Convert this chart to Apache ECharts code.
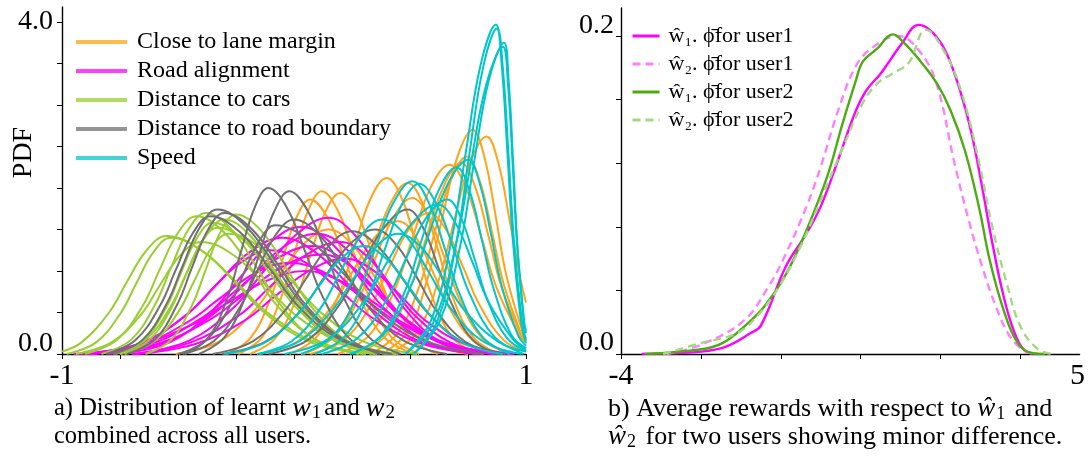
<!DOCTYPE html>
<html><head><meta charset="utf-8">
<script src="https://cdn.jsdelivr.net/npm/echarts@6/dist/echarts.min.js"></script>
<style>html,body{margin:0;padding:0;background:#fff}#c{width:1088px;height:474px}</style>
</head><body><div id="c"></div>
<script>
// ---------- Panel a: distributions of learnt weights (x in [-1,1], y = PDF) ----------
const groupNames = ['Close to lane margin', 'Road alignment', 'Distance to cars', 'Distance to road boundary', 'Speed'];

const laneMarginCurves = [
 [[-0.24,0],[-0.138,0.20],[-0.054,0.69],[0,1.20],[0.06,1.72],[0.12,1.96],[0.19,1.72],[0.26,1.20],[0.323,0.69],[0.421,0.20],[0.54,0]],
 [[-0.19,0],[-0.08,0.19],[0.012,0.68],[0.07,1.18],[0.135,1.71],[0.2,1.94],[0.27,1.71],[0.34,1.18],[0.403,0.68],[0.501,0.19],[0.62,0]],
 [[-0.29,0],[-0.188,0.19],[-0.104,0.65],[-0.05,1.13],[0.01,1.64],[0.07,1.86],[0.145,1.64],[0.22,1.13],[0.288,0.65],[0.393,0.19],[0.52,0]],
 [[-0.02,0],[0.099,0.21],[0.197,0.74],[0.26,1.29],[0.33,1.87],[0.4,2.12],[0.465,1.87],[0.53,1.29],[0.589,0.74],[0.68,0.21],[0.79,0]],
 [[0.04,0],[0.168,0.21],[0.273,0.72],[0.34,1.26],[0.415,1.81],[0.49,2.06],[0.555,1.81],[0.62,1.26],[0.679,0.72],[0.77,0.21],[0.88,0]],
 [[0.03,0],[0.166,0.19],[0.278,0.66],[0.35,1.15],[0.43,1.65],[0.51,1.88],[0.58,1.65],[0.65,1.15],[0.713,0.66],[0.811,0.19],[0.93,0]],
 [[0.07,0],[0.215,0.17],[0.334,0.6],[0.41,1.04],[0.495,1.5],[0.58,1.7],[0.655,1.5],[0.73,1.04],[0.798,0.6],[0.903,0.17],[1,0.03]],
 [[-0.15,0],[0.02,0.16],[0.16,0.56],[0.25,0.98],[0.35,1.41],[0.45,1.6],[0.525,1.41],[0.6,0.98],[0.668,0.56],[0.773,0.16],[0.9,0]],
 [[0.38,0],[0.49,0.27],[0.58,0.95],[0.64,1.65],[0.705,2.38],[0.77,2.7],[0.82,2.38],[0.87,1.65],[0.915,0.95],[0.985,0.27],[1,0.19]],
 [[0.41,0],[0.529,0.26],[0.627,0.92],[0.69,1.6],[0.76,2.31],[0.83,2.62],[0.88,2.31],[0.93,1.6],[0.975,0.92],[1,0.62]],
 [[0.325,0],[0.444,0.24],[0.542,0.83],[0.605,1.45],[0.675,2.09],[0.745,2.38],[0.8,2.09],[0.855,1.45],[0.905,0.83],[0.98,0.24],[1,0.16]],
 [[0.27,0],[0.398,0.23],[0.503,0.81],[0.57,1.4],[0.645,2.02],[0.72,2.3],[0.78,2.02],[0.84,1.4],[0.894,0.81],[0.978,0.23],[1,0.15]],
 [[0.19,0],[0.326,0.23],[0.438,0.8],[0.51,1.39],[0.59,2.01],[0.67,2.28],[0.74,2.01],[0.81,1.39],[0.873,0.8],[0.971,0.23],[1,0.14]],
 [[-0.51,0],[-0.323,0.15],[-0.169,0.53],[-0.07,0.92],[0.04,1.32],[0.15,1.5],[0.25,1.32],[0.35,0.92],[0.44,0.53],[0.58,0.15],[0.75,0]]
];

const roadAlignmentCurves = [
 [[-0.69,0],[-0.452,0.16],[-0.256,0.57],[-0.13,1.0],[0.01,1.44],[0.15,1.64],[0.26,1.44],[0.37,1.0],[0.469,0.57],[0.623,0.16],[0.81,0]],
 [[-0.75,0],[-0.529,0.15],[-0.347,0.54],[-0.23,0.93],[-0.1,1.35],[0.03,1.53],[0.155,1.35],[0.28,0.93],[0.393,0.54],[0.568,0.15],[0.78,0]],
 [[-0.8,0],[-0.545,0.15],[-0.335,0.51],[-0.2,0.88],[-0.05,1.28],[0.1,1.45],[0.22,1.28],[0.34,0.88],[0.448,0.51],[0.616,0.15],[0.82,0]],
 [[-0.89,0],[-0.652,0.14],[-0.456,0.49],[-0.33,0.85],[-0.19,1.23],[-0.05,1.4],[0.09,1.23],[0.23,0.85],[0.356,0.49],[0.552,0.14],[0.79,0]],
 [[-0.7,0],[-0.445,0.14],[-0.235,0.47],[-0.1,0.82],[0.05,1.19],[0.2,1.35],[0.31,1.19],[0.42,0.82],[0.519,0.47],[0.673,0.14],[0.86,0]],
 [[-0.88,0],[-0.608,0.13],[-0.384,0.46],[-0.24,0.79],[-0.08,1.14],[0.08,1.3],[0.21,1.14],[0.34,0.79],[0.457,0.46],[0.639,0.13],[0.86,0]],
 [[-0.88,0],[-0.659,0.13],[-0.477,0.44],[-0.36,0.76],[-0.23,1.1],[-0.1,1.25],[0.05,1.1],[0.2,0.76],[0.335,0.44],[0.545,0.13],[0.8,0]],
 [[-0.87,0],[-0.59,0.12],[-0.359,0.42],[-0.21,0.73],[-0.045,1.06],[0.12,1.2],[0.245,1.06],[0.37,0.73],[0.483,0.42],[0.658,0.12],[0.87,0]],
 [[-0.92,0],[-0.665,0.11],[-0.455,0.39],[-0.32,0.67],[-0.17,0.97],[-0.02,1.1],[0.14,0.97],[0.3,0.67],[0.444,0.39],[0.668,0.11],[0.94,0]],
 [[-0.68,0],[-0.425,0.12],[-0.215,0.4],[-0.08,0.7],[0.07,1.01],[0.22,1.15],[0.34,1.01],[0.46,0.7],[0.568,0.4],[0.736,0.12],[0.94,0]],
 [[-0.95,0],[-0.681,0.1],[-0.443,0.35],[-0.29,0.61],[-0.12,0.88],[0.05,1.0],[0.2,0.88],[0.35,0.61],[0.485,0.35],[0.695,0.1],[0.95,0]]
];

const carDistanceCurves = [
 [[-1,0.03],[-0.916,0.14],[-0.797,0.5],[-0.72,0.87],[-0.635,1.25],[-0.55,1.42],[-0.4,1.25],[-0.25,0.87],[-0.115,0.5],[0.095,0.14],[0.35,0]],
 [[-0.98,0],[-0.853,0.14],[-0.748,0.49],[-0.68,0.85],[-0.605,1.23],[-0.53,1.4],[-0.39,1.23],[-0.25,0.85],[-0.124,0.49],[0.072,0.14],[0.31,0]],
 [[-0.9,0],[-0.764,0.17],[-0.652,0.58],[-0.58,1.01],[-0.5,1.46],[-0.42,1.66],[-0.3,1.46],[-0.18,1.01],[-0.072,0.58],[0.096,0.17],[0.3,0]],
 [[-0.83,0],[-0.703,0.17],[-0.598,0.6],[-0.53,1.04],[-0.455,1.5],[-0.38,1.7],[-0.27,1.5],[-0.16,1.04],[-0.061,0.6],[0.093,0.17],[0.28,0]],
 [[-0.77,0],[-0.651,0.16],[-0.553,0.55],[-0.49,0.96],[-0.42,1.39],[-0.35,1.58],[-0.225,1.39],[-0.1,0.96],[0.013,0.55],[0.188,0.16],[0.4,0]],
 [[-0.75,0],[-0.631,0.15],[-0.533,0.53],[-0.47,0.93],[-0.4,1.34],[-0.33,1.52],[-0.2,1.34],[-0.07,0.93],[0.047,0.53],[0.229,0.15],[0.45,0]],
 [[-0.78,0],[-0.644,0.16],[-0.532,0.57],[-0.46,0.99],[-0.38,1.43],[-0.3,1.62],[-0.19,1.43],[-0.08,0.99],[0.019,0.57],[0.173,0.16],[0.36,0]],
 [[-0.73,0],[-0.603,0.15],[-0.498,0.51],[-0.43,0.88],[-0.355,1.28],[-0.28,1.45],[-0.145,1.28],[-0.01,0.88],[0.112,0.51],[0.3,0.15],[0.53,0]],
 [[-0.64,0],[-0.53,0.17],[-0.439,0.59],[-0.38,1.02],[-0.315,1.48],[-0.25,1.68],[-0.14,1.48],[-0.03,1.02],[0.069,0.59],[0.223,0.17],[0.41,0]],
 [[-0.94,0],[-0.787,0.14],[-0.661,0.47],[-0.58,0.82],[-0.49,1.19],[-0.4,1.35],[-0.26,1.19],[-0.12,0.82],[0.006,0.47],[0.202,0.14],[0.44,0]]
];

const roadBoundaryCurves = [
 [[-0.78,0],[-0.653,0.17],[-0.548,0.61],[-0.48,1.06],[-0.405,1.53],[-0.33,1.74],[-0.205,1.53],[-0.08,1.06],[0.033,0.61],[0.208,0.17],[0.42,0]],
 [[-0.72,0],[-0.601,0.17],[-0.503,0.6],[-0.44,1.04],[-0.37,1.5],[-0.3,1.7],[-0.18,1.5],[-0.06,1.04],[0.048,0.6],[0.216,0.17],[0.42,0]],
 [[-0.81,0],[-0.683,0.17],[-0.578,0.58],[-0.51,1.01],[-0.435,1.46],[-0.36,1.66],[-0.23,1.46],[-0.1,1.01],[0.017,0.58],[0.199,0.17],[0.42,0]],
 [[-0.47,0],[-0.368,0.2],[-0.284,0.7],[-0.23,1.22],[-0.17,1.76],[-0.11,2.0],[-0.03,1.76],[0.05,1.22],[0.122,0.7],[0.234,0.2],[0.37,0]],
 [[-0.41,0],[-0.3,0.2],[-0.209,0.69],[-0.15,1.2],[-0.085,1.72],[-0.02,1.96],[0.06,1.72],[0.14,1.2],[0.212,0.69],[0.324,0.2],[0.46,0]],
 [[-0.48,0],[-0.344,0.16],[-0.232,0.57],[-0.16,0.99],[-0.08,1.43],[0,1.62],[0.11,1.43],[0.22,0.99],[0.319,0.57],[0.473,0.16],[0.66,0]],
 [[-0.5,0],[-0.381,0.16],[-0.283,0.54],[-0.22,0.95],[-0.15,1.36],[-0.08,1.55],[0.07,1.36],[0.22,0.95],[0.355,0.54],[0.565,0.16],[0.82,0]],
 [[-0.35,0],[-0.18,0.15],[-0.04,0.52],[0.05,0.9],[0.15,1.3],[0.25,1.48],[0.36,1.3],[0.47,0.9],[0.569,0.52],[0.723,0.15],[0.91,0]],
 [[-0.11,0],[0.06,0.17],[0.2,0.61],[0.29,1.06],[0.39,1.53],[0.49,1.74],[0.555,1.53],[0.62,1.06],[0.679,0.61],[0.77,0.17],[0.88,0]],
 [[-0.31,0],[-0.123,0.15],[0.031,0.53],[0.13,0.92],[0.24,1.32],[0.35,1.5],[0.44,1.32],[0.53,0.92],[0.611,0.53],[0.737,0.15],[0.89,0]]
];

const speedCurves = [
 [[0.48,0],[0.59,0.4],[0.68,1.39],[0.74,2.42],[0.805,3.49],[0.87,3.97],[0.895,3.49],[0.92,2.42],[0.943,1.39],[0.978,0.4],[1,0.13]],
 [[0.515,0],[0.617,0.39],[0.701,1.37],[0.755,2.39],[0.815,3.45],[0.875,3.92],[0.9,3.45],[0.925,2.39],[0.948,1.37],[0.983,0.39],[1,0.17]],
 [[0.515,0],[0.626,0.38],[0.717,1.31],[0.775,2.29],[0.84,3.3],[0.905,3.75],[0.925,3.3],[0.945,2.29],[0.963,1.31],[0.991,0.38],[1,0.25]],
 [[0.48,0],[0.599,0.37],[0.697,1.3],[0.76,2.26],[0.83,3.26],[0.9,3.7],[0.922,3.26],[0.943,2.26],[0.962,1.3],[0.993,0.37],[1,0.28]],
 [[0.03,0],[0.166,0.21],[0.278,0.73],[0.35,1.27],[0.43,1.83],[0.51,2.08],[0.58,1.83],[0.65,1.27],[0.713,0.73],[0.811,0.21],[0.93,0]],
 [[0.09,0],[0.218,0.21],[0.323,0.72],[0.39,1.25],[0.465,1.8],[0.54,2.05],[0.615,1.8],[0.69,1.25],[0.758,0.72],[0.863,0.21],[0.99,0]],
 [[0.24,0],[0.385,0.23],[0.504,0.82],[0.58,1.43],[0.665,2.06],[0.75,2.34],[0.8,2.06],[0.85,1.43],[0.895,0.82],[0.965,0.23],[1,0.1]],
 [[0.25,0],[0.378,0.23],[0.483,0.79],[0.55,1.37],[0.625,1.98],[0.7,2.25],[0.755,1.98],[0.81,1.37],[0.86,0.79],[0.937,0.23],[1,0.07]],
 [[0.12,0],[0.273,0.19],[0.399,0.65],[0.48,1.13],[0.57,1.64],[0.66,1.86],[0.72,1.64],[0.78,1.13],[0.834,0.65],[0.918,0.19],[1,0.04]],
 [[-0.16,0],[-0.007,0.16],[0.119,0.57],[0.2,0.99],[0.29,1.43],[0.38,1.62],[0.48,1.43],[0.58,0.99],[0.67,0.57],[0.81,0.16],[0.98,0]],
 [[-0.15,0],[0.02,0.15],[0.16,0.51],[0.25,0.88],[0.35,1.28],[0.45,1.45],[0.55,1.28],[0.65,0.88],[0.74,0.51],[0.88,0.15],[1,0.03]],
 [[-0.3,0],[-0.13,0.13],[0.01,0.46],[0.1,0.79],[0.2,1.14],[0.3,1.3],[0.4,1.14],[0.5,0.79],[0.59,0.46],[0.73,0.13],[0.9,0]],
 [[-0.04,0],[0.147,0.18],[0.301,0.63],[0.4,1.1],[0.51,1.58],[0.62,1.8],[0.695,1.58],[0.77,1.1],[0.838,0.63],[0.943,0.18],[1,0.05]]
];

const leftXTicks = [-1, -0.75, -0.5, -0.25, 0, 0.25, 0.5, 0.75, 1];
const leftXLabels = [-1, 1];
const leftYTicks = [0, 0.5, 1, 1.5, 2, 2.5, 3, 3.5, 4];
const leftYLabels = [0, 4];

// ---------- Panel b: average rewards ----------
const rightNames = ['ŵ₁. ϕ̄for user1', 'ŵ₂. ϕ̄for user1', 'ŵ₁. ϕ̄for user2', 'ŵ₂. ϕ̄for user2'];
const w1User1 = [[-3.59,0],[-2.41,0.0015],[-1.93,0.0046],[-1.45,0.013],[-1.24,0.018],[-0.75,0.055],[-0.34,0.076],[-0.06,0.093],[0.28,0.122],[0.63,0.153],[0.84,0.166],[1.11,0.176],[1.31,0.185],[1.53,0.195],[1.87,0.207],[2.15,0.202],[2.42,0.189],[2.70,0.164],[2.91,0.139],[3.12,0.105],[3.32,0.070],[3.53,0.038],[3.74,0.015],[3.95,0.0025],[4.22,0]];
const w2User1 = [[-3.10,0],[-2.41,0.006],[-1.58,0.021],[-1.10,0.042],[-0.75,0.063],[-0.34,0.093],[-0.06,0.118],[0.28,0.153],[0.63,0.181],[0.97,0.193],[1.46,0.200],[1.87,0.191],[2.22,0.170],[2.56,0.122],[2.84,0.086],[3.12,0.055],[3.39,0.030],[3.67,0.011],[3.95,0.002],[4.16,0]];
const w1User2 = [[-3.53,0],[-2.41,0.003],[-1.99,0.007],[-1.58,0.017],[-1.17,0.030],[-0.75,0.050],[-0.34,0.078],[0.08,0.113],[0.35,0.143],[0.63,0.172],[0.77,0.184],[1.05,0.192],[1.36,0.201],[1.60,0.195],[1.88,0.185],[2.23,0.170],[2.50,0.153],[2.78,0.128],[3.06,0.092],[3.27,0.059],[3.55,0.027],[3.82,0.007],[4.10,0.0006],[4.37,0]];
const w2User2 = [[-3.17,0],[-2.41,0.007],[-1.72,0.013],[-1.31,0.024],[-0.89,0.042],[-0.47,0.067],[-0.06,0.097],[0.35,0.128],[0.77,0.158],[1.05,0.170],[1.33,0.176],[1.67,0.183],[2.01,0.204],[2.36,0.191],[2.70,0.166],[3.05,0.122],[3.32,0.080],[3.60,0.045],[3.88,0.017],[4.22,0.003],[4.50,0]];
const rightXTicks = [-4, -2.425, -0.85, 0.725, 2.3, 3.875];
const rightXLabels = [-4, 5];
const rightYTicks = [0, 0.04, 0.08, 0.12, 0.16, 0.2];
const rightYLabels = [0, 0.2];

// ---------- styling ----------
const FONT = 'Liberation Serif';
const groupColors = ['#FFA31A', '#FF00FF', '#9ACD32', '#707070', '#00C6C9'];
const groupData = [laneMarginCurves, roadAlignmentCurves, carDistanceCurves, roadBoundaryCurves, speedCurves];
const rightColors = ['#FF00FF', '#FF80FF', '#4DAA12', '#A3D985'];
const rightData = [w1User1, w2User1, w1User2, w2User2];
const rightDashed = [false, true, false, true];

const series = [];
groupData.forEach((curves, g) => {
  curves.forEach(curve => {
    series.push({
      type: 'line', name: groupNames[g], xAxisIndex: 0, yAxisIndex: 0,
      data: curve, smooth: 0.4, symbol: 'none', silent: true,
      lineStyle: { color: groupColors[g], width: 2 }, itemStyle: { color: groupColors[g] }
    });
  });
});
rightData.forEach((d, i) => {
  series.push({
    type: 'line', name: rightNames[i], xAxisIndex: 1, yAxisIndex: 1,
    data: d, smooth: 0.4, symbol: 'none', silent: true,
    lineStyle: { color: rightColors[i], width: 2.4, type: rightDashed[i] ? [8, 5] : 'solid' },
    itemStyle: { color: rightColors[i] }
  });
});

function axisLine() { return { show: true, onZero: false, lineStyle: { color: '#000', width: 1.4 } }; }
function ticks(vals) { return { show: true, customValues: vals, length: 5, inside: false, lineStyle: { color: '#000', width: 1 } }; }
const txt = { fontFamily: FONT, color: '#000', fontWeight: 'normal' };
function capRich(base, math, sub) {
  return {
    n: Object.assign({ fontSize: base, lineHeight: 28 }, txt),
    i: Object.assign({ fontSize: math, fontStyle: 'italic', lineHeight: 28 }, txt),
    s: Object.assign({ fontSize: sub, lineHeight: 28, verticalAlign: 'bottom', padding: [6, 3, 0, 1] }, txt)
  };
}

const chart = echarts.init(document.getElementById('c'), null, { renderer: 'canvas' });
chart.setOption({
  animation: false,
  backgroundColor: '#fff',
  grid: [
    { left: 62, top: 7, width: 464, height: 347 },
    { left: 621, top: 8, width: 459, height: 346 }
  ],
  xAxis: [
    { gridIndex: 0, type: 'value', min: -1, max: 1, axisLine: axisLine(), axisTick: ticks(leftXTicks),
      axisLabel: Object.assign({ customValues: leftXLabels, fontSize: 30, margin: 7 }, txt), splitLine: { show: false } },
    { gridIndex: 1, type: 'value', min: -4, max: 5.04, axisLine: axisLine(), axisTick: ticks(rightXTicks),
      axisLabel: Object.assign({ customValues: rightXLabels, fontSize: 30, margin: 7 }, txt), splitLine: { show: false } }
  ],
  yAxis: [
    { gridIndex: 0, type: 'value', min: 0, max: 4.18, axisLine: axisLine(), axisTick: ticks(leftYTicks),
      axisLabel: Object.assign({ customValues: leftYLabels, fontSize: 28, margin: 9,
        formatter: v => v === 0 ? '{lo|0.0}' : '{hi|' + v.toFixed(1) + '}',
        rich: { lo: Object.assign({ fontSize: 28, padding: [0, 0, 20, 0] }, txt),
                hi: Object.assign({ fontSize: 28 }, txt) } }, txt),
      splitLine: { show: false },
      name: 'PDF', nameLocation: 'middle', nameRotate: 90, nameGap: 24, nameMoveOverlap: false,
      nameTextStyle: Object.assign({ fontSize: 28, padding: [0, 0, 0, 56] }, txt) },
    { gridIndex: 1, type: 'value', min: 0, max: 0.2176, axisLine: axisLine(), axisTick: ticks(rightYTicks),
      axisLabel: Object.assign({ customValues: rightYLabels, fontSize: 28, margin: 7,
        formatter: v => v === 0 ? '{lo|0.0}' : '{hi|' + v.toFixed(1) + '}',
        rich: { lo: Object.assign({ fontSize: 28, padding: [0, 0, 22, 0] }, txt),
                hi: Object.assign({ fontSize: 28, padding: [0, 0, 20, 0] }, txt) } }, txt),
      splitLine: { show: false } }
  ],
  legend: [
    { data: groupNames, orient: 'vertical', left: 74, top: 30, padding: 0, itemWidth: 51, itemHeight: 14, itemGap: 5,
      selectedMode: false, lineStyle: { width: 4, opacity: 0.75 }, itemStyle: { opacity: 0 },
      textStyle: Object.assign({ fontSize: 24, padding: [0, 0, 0, 5] }, txt) },
    { data: rightNames, orient: 'vertical', left: 631, top: 25, padding: 0, itemWidth: 27, itemHeight: 14, itemGap: 6,
      selectedMode: false, lineStyle: { width: 3 }, itemStyle: { opacity: 0 },
      textStyle: Object.assign({ fontSize: 22, padding: [0, 0, 0, 4] }, txt) }
  ],
  title: [
    { left: 54, top: 395, padding: 0,
      text: '{n|a) Distribution of learnt }{i|w}{s|1}{n|and }{i|w}{s|2}\n{n|combined across all users.}',
      textStyle: Object.assign({ fontSize: 24.5, rich: capRich(24.5, 28, 19) }, txt) },
    { left: 608, top: 395, padding: 0,
      text: '{n|b) Average rewards with respect to }{i|ŵ}{s|1}{n| and}\n{i|ŵ}{s|2}{n| for two users showing minor difference.}',
      textStyle: Object.assign({ fontSize: 26, rich: capRich(26, 27, 18) }, txt) }
  ],
  series: series
});
</script>
</body></html>
